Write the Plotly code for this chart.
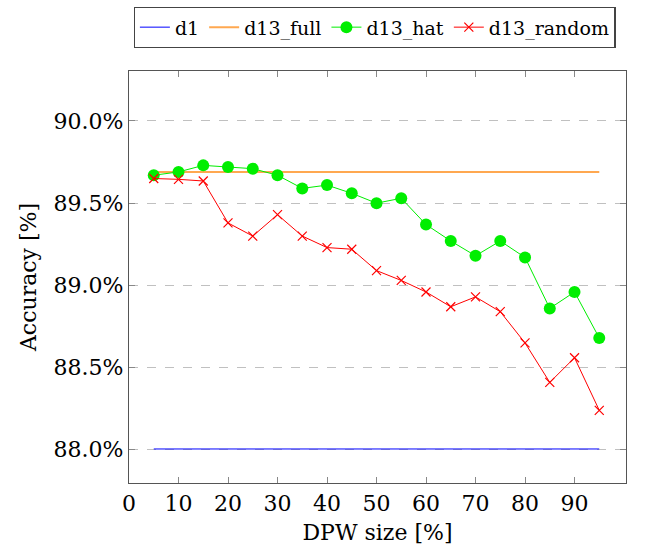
import plotly.graph_objects as go

dpw_size = [5, 10, 15, 20, 25, 30, 35, 40, 45, 50, 55, 60, 65, 70, 75, 80, 85, 90, 95]
d1_x = [5, 95]
d1_y = [88.005, 88.005]
d13_full_x = [5, 95]
d13_full_y = [89.69, 89.69]
d13_hat = [89.67, 89.69, 89.73, 89.72, 89.71, 89.67, 89.59, 89.61, 89.56, 89.50,
           89.53, 89.37, 89.27, 89.18, 89.27, 89.17, 88.86, 88.96, 88.68]
d13_random = [89.65, 89.645, 89.635, 89.38, 89.30, 89.43, 89.30, 89.23, 89.22, 89.09,
              89.03, 88.96, 88.87, 88.93, 88.84, 88.65, 88.41, 88.56, 88.24]
x_ticks = [0, 10, 20, 30, 40, 50, 60, 70, 80, 90]
y_ticks = [88.0, 88.5, 89.0, 89.5, 90.0]
y_tick_labels = ["88.0%", "88.5%", "89.0%", "89.5%", "90.0%"]

FONT = "DejaVu Serif"
FS = 22
LEGEND_FS = 19

fig = go.Figure()
fig.add_trace(go.Scatter(x=d1_x, y=d1_y, mode="lines", name="d1",
                         line=dict(color="#0000ff", width=1)))
fig.add_trace(go.Scatter(x=d13_full_x, y=d13_full_y, mode="lines", name="d13_full",
                         line=dict(color="#ffa850", width=2)))
fig.add_trace(go.Scatter(x=dpw_size, y=d13_hat, mode="lines+markers", name="d13_hat",
                         line=dict(color="#00ee00", width=1),
                         marker=dict(symbol="circle", size=12, color="#00ee00")))
fig.add_trace(go.Scatter(x=dpw_size, y=d13_random, mode="lines+markers", name="d13_random",
                         line=dict(color="#ff0000", width=1),
                         marker=dict(symbol="x-thin", size=9,
                                     line=dict(color="#ff0000", width=1.2))))

axis_common = dict(
    showline=True, linecolor="#555", linewidth=1.3, mirror="allticks",
    ticks="inside", ticklen=6, tickcolor="#888", tickwidth=1,
    tickfont=dict(family=FONT, size=FS, color="#000"),
    zeroline=False,
)

fig.update_xaxes(range=[0, 100.4], tickvals=x_ticks, showgrid=False,
                 title=dict(text="DPW size [%]", font=dict(family=FONT, size=FS, color="#000"),
                            standoff=10),
                 **axis_common)
fig.update_yaxes(range=[87.798, 90.304], tickvals=y_ticks, ticktext=y_tick_labels,
                 showgrid=True, gridcolor="#c0c0c0", griddash="dash", gridwidth=1,
                 title=dict(text="Accuracy [%]", font=dict(family=FONT, size=FS, color="#000"),
                            standoff=10),
                 **axis_common)

fig.update_layout(
    width=663, height=550,
    margin=dict(l=129, r=37, t=71, b=67, autoexpand=False),
    paper_bgcolor="white", plot_bgcolor="white",
    font=dict(family=FONT, size=FS, color="#000"),
    showlegend=True,
    legend=dict(orientation="h", xref="container", yref="container",
                x=0.565, xanchor="center", y=1 - 7 / 550, yanchor="top",
                bordercolor="#444", borderwidth=1.3, bgcolor="white",
                font=dict(family=FONT, size=LEGEND_FS, color="#000"),
                itemwidth=30, tracegroupgap=0),
)

fig.write_html("out.html", config={"displayModeBar": False},
               post_script="document.body.style.margin='0px';")
